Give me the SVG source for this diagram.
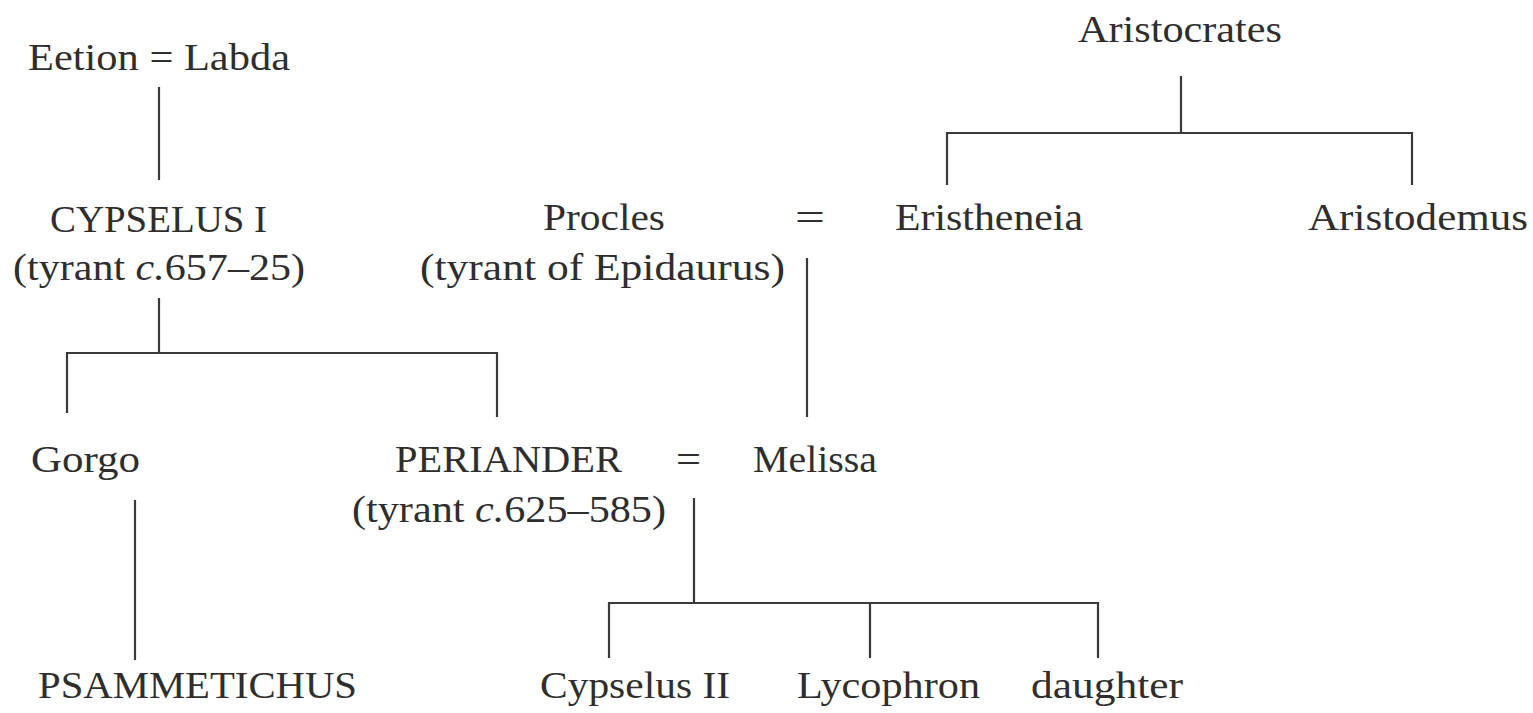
<svg xmlns="http://www.w3.org/2000/svg" width="1533" height="713" viewBox="0 0 1533 713">
<style>
text{font-family:"Liberation Serif","Times New Roman",serif;font-size:38px;fill:#2e2e2e}
.l{stroke:#3a3a3a;stroke-width:2.2;fill:none}
</style>
<rect width="1533" height="713" fill="#ffffff"/>
<g id="connectors">
<path class="l" d="M159 87V180"/>
<path class="l" d="M159 298V353M67 413V353H497V417"/>
<path class="l" d="M807 258V417"/>
<path class="l" d="M1181 76V133M947 185V133H1412V185"/>
<path class="l" d="M135 500V660"/>
<path class="l" d="M694 498V603M609 658V603H1098V658M870 603V658"/>
</g>
<g id="eetion-labda"><text x="28" y="70" textLength="262" lengthAdjust="spacingAndGlyphs">Eetion = Labda</text></g>
<g id="aristocrates"><text x="1078" y="42" textLength="204" lengthAdjust="spacingAndGlyphs">Aristocrates</text></g>
<g id="cypselus1"><text x="50" y="232" textLength="217" lengthAdjust="spacingAndGlyphs">CYPSELUS I</text><text x="13" y="280" textLength="292" lengthAdjust="spacingAndGlyphs">(tyrant <tspan font-style="italic">c.</tspan>657–25)</text></g>
<g id="procles"><text x="543" y="230" textLength="122" lengthAdjust="spacingAndGlyphs">Procles</text><text x="420" y="280" textLength="365" lengthAdjust="spacingAndGlyphs">(tyrant of Epidaurus)</text></g>
<g id="marriage1"><text x="795" y="230" textLength="30" lengthAdjust="spacingAndGlyphs">=</text></g>
<g id="eristheneia"><text x="895" y="230" textLength="188" lengthAdjust="spacingAndGlyphs">Eristheneia</text></g>
<g id="aristodemus"><text x="1308" y="230" textLength="220" lengthAdjust="spacingAndGlyphs">Aristodemus</text></g>
<g id="gorgo"><text x="31" y="472" textLength="109" lengthAdjust="spacingAndGlyphs">Gorgo</text></g>
<g id="periander"><text x="395" y="472" textLength="227" lengthAdjust="spacingAndGlyphs">PERIANDER</text><text x="352" y="522" textLength="314" lengthAdjust="spacingAndGlyphs">(tyrant <tspan font-style="italic">c.</tspan>625–585)</text></g>
<g id="marriage2"><text x="676" y="472" textLength="25" lengthAdjust="spacingAndGlyphs">=</text></g>
<g id="melissa"><text x="753" y="472" textLength="124" lengthAdjust="spacingAndGlyphs">Melissa</text></g>
<g id="psammetichus"><text x="38" y="698" textLength="319" lengthAdjust="spacingAndGlyphs">PSAMMETICHUS</text></g>
<g id="cypselus2"><text x="540" y="698" textLength="190" lengthAdjust="spacingAndGlyphs">Cypselus II</text></g>
<g id="lycophron"><text x="797" y="698" textLength="183" lengthAdjust="spacingAndGlyphs">Lycophron</text></g>
<g id="daughter"><text x="1031" y="698" textLength="152" lengthAdjust="spacingAndGlyphs">daughter</text></g>
</svg>
